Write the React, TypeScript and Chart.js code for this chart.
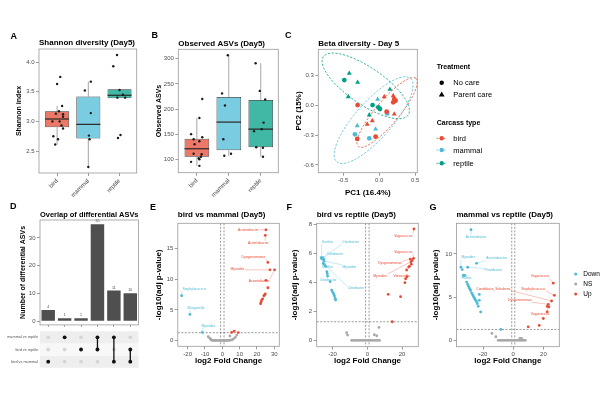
import React, { useEffect, useRef } from "react";
import { Chart, registerables } from "chart.js";

Chart.register(...registerables);

const FONT = '"Liberation Sans", Arial, Helvetica, sans-serif';
const TICK_COLOR = "#4d4d4d";
const FRAME_COLOR = "#9a9a9a";
const C_BIRD = "#E64B35";
const C_MAMMAL = "#4DBBD5";
const C_REPTILE = "#00A087";
const C_NS = "#a8a8a8";
const GROUP_COLORS = [C_BIRD, C_MAMMAL, C_REPTILE];
const GROUP_FILLS = ["rgba(230,75,53,0.75)", "rgba(77,187,213,0.75)", "rgba(0,160,135,0.75)"];

// ---------------- DATA ----------------
const carcassTypes = ["bird", "mammal", "reptile"];

// A: Shannon diversity (box stats per carcass type)
const shannonQ1 = [2.9, 2.71, 3.39];
const shannonMedian = [3.04, 2.95, 3.44];
const shannonQ3 = [3.17, 3.42, 3.54];
const shannonLow = [2.61, 2.23, 3.39];
const shannonHigh = [3.26, 3.67, 3.54];
const shannonBird = [3.75, 3.63, 3.26, 3.17, 3.13, 3.12, 3.08, 3.0, 3.0, 2.93, 2.88, 2.75, 2.7, 2.61];
const shannonBirdJitter = [0.1, 0.0, 0.16, 0.06, -0.04, 0.19, 0.19, -0.15, 0.08, 0.14, 0.19, -0.12, 0.03, -0.06];
const shannonMammal = [3.67, 3.52, 3.14, 2.76, 2.7, 2.23];
const shannonMammalJitter = [0.08, -0.11, 0.08, 0.02, 0.04, 0.0];
const shannonReptile = [4.12, 3.93, 3.53, 3.45, 3.4, 3.4, 2.77, 2.72];
const shannonReptileJitter = [-0.08, -0.2, 0.0, 0.11, -0.07, 0.18, 0.03, -0.05];
const shannonTicks = [2.5, 3.0, 3.5, 4.0];

// B: Observed ASVs
const obsQ1 = [105, 118, 124];
const obsMedian = [121, 174, 160];
const obsQ3 = [141, 224, 218];
const obsLow = [87, 107, 105];
const obsHigh = [182, 307, 291];
const obsBird = [220, 182, 150, 144, 140, 136, 130, 111, 110, 105, 102, 100, 95, 87];
const obsBirdJitter = [0.17, 0.08, -0.18, 0.17, -0.1, 0.08, -0.07, -0.1, 0.15, 0.13, 0.06, 0.08, -0.18, 0.08];
const obsMammal = [307, 231, 207, 140, 111, 107];
const obsMammalJitter = [-0.03, -0.21, -0.12, -0.17, 0.07, -0.14];
const obsReptile = [291, 236, 219, 173, 160, 156, 124, 123, 105];
const obsReptileJitter = [-0.16, -0.03, 0.14, 0.09, 0.03, -0.21, -0.14, 0.07, 0.07];
const obsTicks = [100, 150, 200, 250, 300];

// C: PCA
const pc1 = [0.069, 0.194, 0.208, 0.227, 0.194, -0.301, 0.102, 0.208, -0.167, -0.097, -0.306, -0.051,
  -0.023, 0.111, -0.306, -0.051, -0.338, -0.139,
  -0.417, -0.486, -0.301, -0.431, 0.148, -0.093, -0.014, 0.009, -0.139];
const pc2 = [0.088, 0.098, 0.064, 0.048, 0.031, 0.004, -0.063, -0.087, -0.19, -0.154, -0.338, -0.315,
  0.061, -0.08, -0.204, -0.238, -0.291, -0.331,
  0.323, 0.256, 0.233, 0.088, 0.162, 0.004, -0.019, -0.036, -0.096];
const pcaGroup = [0, 0, 0, 0, 0, 0, 0, 0, 0, 0, 0, 0, 1, 1, 1, 1, 1, 1, 2, 2, 2, 2, 2, 2, 2, 2, 2];
const pcaCare = [1, 1, 0, 0, 0, 0, 0, 1, 1, 1, 0, 0, 1, 0, 1, 1, 0, 0, 1, 0, 1, 1, 1, 0, 0, 0, 1];
const treatments = ["No care", "Parent care"];
// confidence ellipses: centre and two semi-axis vectors (data units), per carcass type
const ellipseCenter = [[0.109, -0.071], [-0.079, -0.148], [-0.188, 0.197]];
const ellipseAxisA = [[0.4, 0.344], [0.514, 0.42], [0.59, -0.294]];
const ellipseAxisB = [[0.124, -0.076], [0.19, -0.123], [-0.144, -0.152]];

// D: UpSet
const comparisons = ["bird vs mammal", "bird vs reptile", "mammal vs reptile"];
const intersectionSizes = [4, 1, 1, 35, 11, 10];
const intersectionSets = [[0], [2], [1], [1, 2], [0, 2], [0, 1]];

// E: bird vs mammal
const eDown = [[-23.5, 7.3], [-18.7, 4.26], [-11.5, 1.35]];
const eNs = [[-8.1, 0.65], [-7.1, 0.38], [-6.7, 0.22], [-6.2, 0.08], [-5.5, 0.05], [-4.8, 0.04], [-4.0, 0.03], [-3.3, 0.05],
  [-2.5, 0.02], [-1.8, 0.04], [-1.0, 0.03], [-0.3, 0.02], [0.5, 0.03], [1.2, 0.02], [2.0, 0.04], [2.8, 0.03], [3.5, 0.05],
  [4.2, 0.06], [5.0, 0.1], [5.8, 0.15], [4.4, 0.76], [8.3, 0.92], [7.5, 0.54], [6.5, 0.3]];
const eUp = [[25.2, 18.0], [24.8, 17.1], [26.3, 12.7], [27.5, 11.5], [30.2, 11.5], [25.2, 9.8], [26.3, 8.6], [24.8, 7.6],
  [24.4, 7.4], [24.0, 7.3], [23.3, 6.8], [22.7, 6.6], [22.4, 6.3], [22.1, 6.0], [5.4, 1.35], [6.9, 1.56], [9.2, 1.32]];
const eLabels: any[] = [
  ["Acinetobacter", 15.0, 18.0, 25.2, 18.0, 1], ["Acinetobacter", 20.8, 15.9, 24.8, 17.1, 1],
  ["Dysgonomonas", 17.9, 13.6, 26.3, 12.7, 1], ["Myroides", 8.7, 11.7, 27.5, 11.5, 1],
  ["Acinetobacter", 21.2, 9.7, 30.2, 11.5, 1], ["Staphylococcus", -16.2, 8.4, -23.5, 7.3, 0],
  ["Morganella", -15.2, 5.3, -18.7, 4.26, 0], ["Myroides", -8.1, 2.4, -11.5, 1.35, 0]];

// F: bird vs reptile
const fDown = [[-26.6, 5.69], [-25.6, 5.69], [-26.2, 5.62], [-25.1, 5.58], [-24.9, 5.46], [-25.3, 5.3], [-24.6, 5.22],
  [-23.9, 5.1], [-23.3, 4.73], [-23.0, 4.6], [-22.8, 4.43], [-21.4, 4.05], [-20.5, 3.47], [-20.1, 3.36], [-19.5, 3.25],
  [-19.2, 3.15], [-18.9, 3.06], [-18.5, 2.9], [-18.2, 2.79]];
const fNs = [[-11.9, 0.55], [-11.3, 0.39], [-9.0, 0.02], [-8.0, 0.03], [-7.0, 0.02], [-6.0, 0.03], [-5.0, 0.02], [-4.0, 0.03],
  [-3.0, 0.02], [-2.0, 0.03], [-1.0, 0.02], [0.0, 0.03], [1.0, 0.02], [2.0, 0.03], [3.0, 0.02], [4.0, 0.03], [5.0, 0.02],
  [6.0, 0.03], [7.0, 0.02], [6.7, 0.91], [4.0, 0.41], [5.4, 0.34]];
const fUp = [[26.8, 7.66], [26.6, 5.65], [24.7, 5.6], [25.1, 5.42], [25.8, 5.5], [25.3, 5.25], [24.2, 5.1], [23.8, 5.05],
  [22.6, 4.85], [22.8, 4.39], [22.0, 4.25], [21.6, 3.98], [12.0, 3.18], [19.1, 3.02], [14.3, 1.3]];
const fLabels: any[] = [
  ["Kurthia", -23, 6.74, -26.2, 5.69, 0], ["Citrobacter", -9.6, 6.74, -25.6, 5.69, 0],
  ["Citrobacter", -18.6, 5.94, -25.1, 5.58, 0], ["Kurthia", -23, 5.07, -25.6, 5.6, 0],
  ["Myroides", -10.3, 5.07, -24.9, 5.46, 0], ["Citrobacter", -22.4, 4.16, -23.3, 4.73, 0],
  ["Citrobacter", -6.5, 3.59, -24.6, 5.22, 0],
  ["Vagococcus", 20.7, 7.18, 26.8, 7.66, 1], ["Vagococcus", 20.7, 6.1, 26.6, 5.65, 1],
  ["Dysgonomonas", 13.0, 5.3, 24.7, 5.6, 1], ["Myroides", 7.3, 4.43, 25.1, 5.42, 1],
  ["Vitreoscilla", 19.7, 4.43, 22.8, 4.39, 1]];

// G: mammal vs reptile
const gDown = [[-28, 12.8], [-24.3, 8.93], [-34.7, 8.47], [-33.8, 8.2], [-30.2, 8.47], [-33.1, 7.52], [-32, 7.52],
  [-30.9, 6.76], [-30.2, 6.49], [-29.6, 6.26], [-29.1, 6.07], [-28.7, 5.95], [-28.3, 5.8], [-27.6, 5.5], [-26.9, 5.3],
  [-26.5, 5.15], [-26.0, 4.96], [-25.4, 4.81], [-24.9, 4.66], [-24.3, 4.47], [-23.8, 4.27], [-23.2, 3.97],
  [-22.5, 5.34], [-22.5, 4.66], [-21.6, 3.32], [-8.2, 1.3]];
const gNs = [[-14.1, 0.84], [-11.5, 0.46], [-10, 0.05], [-9, 0.04], [-8, 0.05], [-7, 0.04], [-6, 0.05], [-5, 0.04],
  [-4, 0.05], [-3, 0.04], [-2, 0.05], [-1, 0.04], [0, 0.05], [1, 0.04], [2, 0.05], [3, 0.04], [4, 0.05], [5, 0.04],
  [6, 0.05], [7, 0.04], [8, 0.05], [4.4, 0.27], [5.5, 0.27]];
const gUp = [[26.5, 6.64], [27.2, 5.23], [25.4, 4.58], [23.2, 4.2], [23.6, 3.9], [22.5, 3.97], [22.5, 3.32], [19.9, 2.56],
  [17.2, 1.76], [9.9, 1.6]];
const gLabels: any[] = [
  ["Acinetobacter", -24.6, 12.0, -28, 12.8, 0], ["Myroides", -29.8, 9.6, -34.7, 8.47, 0],
  ["Acinetobacter", -11, 9.5, -24.3, 8.93, 0], ["Providencia", -13.2, 8.1, -30.2, 8.47, 0],
  ["Hafnia", -31.0, 7.2, -33.1, 7.52, 0],
  ["Vagococcus", 17.7, 7.4, 26.5, 6.64, 1], ["Staphylococcus", 13.2, 6.0, 27.2, 5.23, 1],
  ["Candidatus_Sokabena", -13.2, 6.0, 25.4, 4.58, 1], ["Dysgonomonas", 4.4, 4.66, 23.2, 4.2, 1],
  ["Vagococcus", 17.7, 3.13, 22.5, 3.97, 1]];
const volcanoClasses = ["Down", "NS", "Up"];
const pThreshold = 1.3;
const fcThreshold = 1;

// ---------------- HELPERS ----------------
type Geom = { cx: number; cy: number; cw: number; ch: number; L: number; R: number; T: number; B: number };

function baseOptions(g: Geom, title: string | null, titleBottom: number, padBottom = 0): any {
  const lh = 9.6;
  return {
    responsive: false,
    animation: false,
    devicePixelRatio: 1,
    layout: { padding: { left: 0, right: g.cx + g.cw - g.R, top: title ? 0 : g.T - g.cy, bottom: padBottom } },
    plugins: {
      legend: { display: false },
      tooltip: { enabled: false },
      title: title
        ? {
            display: true, text: title, align: "start", fullSize: false, color: "#000",
            font: { family: FONT, size: 8, weight: "bold", lineHeight: 1.2 },
            padding: { top: g.T - g.cy - lh - titleBottom, bottom: titleBottom },
          }
        : { display: false },
    },
  };
}

function yAxis(g: Geom, o: any): any {
  const ts = o.titleSize ?? 7;
  return {
    type: "linear", position: "left", min: o.min, max: o.max, beginAtZero: false, offset: false,
    afterBuildTicks: (s: any) => { s.ticks = o.ticks.map((v: number) => ({ value: v })); },
    afterFit: (s: any) => { s.width = g.L - g.cx; },
    grid: { display: o.gridDisplay ?? true, drawOnChartArea: false, drawTicks: true, tickLength: o.tickLen ?? 3, color: "#5a5a5a", lineWidth: 0.6, offset: false },
    border: { display: false },
    ticks: {
      autoSkip: false, font: { family: FONT, size: o.tickFont ?? 6 }, color: o.tickColor ?? TICK_COLOR, padding: o.tickPad ?? 1.5,
      callback: (v: number) => (o.fmt ? o.fmt(v) : String(v)),
    },
    title: o.title
      ? { display: true, text: o.title, color: "#000", font: { family: FONT, size: ts, weight: "bold", lineHeight: 1.2 }, padding: { top: o.titleCenter - g.cx - ts * 0.6, bottom: 0 } }
      : { display: false },
  };
}

function xAxis(g: Geom, o: any): any {
  const ts = o.titleSize ?? 8;
  const bottom = g.cy + g.ch;
  return {
    type: "linear", position: "bottom", min: o.min, max: o.max, beginAtZero: false, offset: false,
    afterBuildTicks: (s: any) => { s.ticks = o.ticks.map((v: number) => ({ value: v })); },
    afterFit: (s: any) => { s.height = bottom - g.B; },
    grid: { display: true, drawOnChartArea: false, drawTicks: true, tickLength: 3, color: "#5a5a5a", lineWidth: 0.6, offset: false },
    border: { display: false },
    ticks: {
      autoSkip: false, font: { family: FONT, size: 6 }, color: TICK_COLOR, padding: 1.5,
      minRotation: o.rot ?? 0, maxRotation: o.rot ?? 0,
      callback: (v: number) => (o.fmt ? o.fmt(v) : String(v)),
    },
    title: o.title
      ? { display: true, text: o.title, color: "#000", font: { family: FONT, size: ts, weight: "bold", lineHeight: 1.2 }, padding: { top: 0, bottom: bottom - o.titleCenter - ts * 0.6 } }
      : { display: false },
  };
}

const framePlugin = {
  id: "frame",
  afterDatasetsDraw(chart: any) {
    const { ctx, chartArea: a } = chart;
    ctx.save();
    ctx.strokeStyle = FRAME_COLOR;
    ctx.lineWidth = 0.8;
    ctx.strokeRect(a.left, a.top, a.right - a.left, a.bottom - a.top);
    ctx.restore();
  },
};

function boxPlugin(q1: number[], med: number[], q3: number[], lo: number[], hi: number[]) {
  return {
    id: "boxparts",
    beforeDatasetsDraw(chart: any) {
      const { ctx, scales } = chart;
      const x = scales.x, y = scales.y;
      ctx.save();
      ctx.strokeStyle = "#808080";
      ctx.lineWidth = 0.7;
      for (let i = 0; i < q1.length; i++) {
        const px = x.getPixelForValue(i);
        ctx.beginPath();
        ctx.moveTo(px, y.getPixelForValue(q3[i]));
        ctx.lineTo(px, y.getPixelForValue(hi[i]));
        ctx.moveTo(px, y.getPixelForValue(q1[i]));
        ctx.lineTo(px, y.getPixelForValue(lo[i]));
        ctx.stroke();
      }
      ctx.restore();
    },
    afterDatasetDraw(chart: any, args: any) {
      if (args.index !== 0) return;
      const { ctx, scales } = chart;
      const meta = chart.getDatasetMeta(0);
      ctx.save();
      ctx.strokeStyle = "#262626";
      ctx.lineWidth = 1.2;
      meta.data.forEach((el: any, i: number) => {
        const py = scales.y.getPixelForValue(med[i]);
        ctx.beginPath();
        ctx.moveTo(el.x - el.width / 2, py);
        ctx.lineTo(el.x + el.width / 2, py);
        ctx.stroke();
      });
      ctx.restore();
    },
  };
}

function boxConfig(g: Geom, title: string, yTitle: string, yMin: number, yMax: number, yTicks: number[], fmt: any,
  q1: number[], med: number[], q3: number[], lo: number[], hi: number[], pts: number[][], jit: number[][]) {
  const points: any[] = [];
  pts.forEach((arr, gi) => arr.forEach((v, k) => points.push({ x: gi + jit[gi][k], y: v })));
  const opts = baseOptions(g, title, 1);
  opts.scales = {
    x: xAxis(g, { min: -0.58, max: 2.55, ticks: [0, 1, 2], fmt: (v: number) => carcassTypes[v], rot: 45 }),
    y: yAxis(g, { min: yMin, max: yMax, ticks: yTicks, fmt, title: yTitle, titleCenter: g.cx + 19 }),
  };
  return {
    type: "bar",
    data: {
      datasets: [
        {
          type: "bar", order: 2,
          data: q1.map((v, i) => ({ x: i, y: [v, q3[i]] })),
          backgroundColor: GROUP_FILLS, borderColor: "#333333", borderWidth: 0.7, borderSkipped: false,
          categoryPercentage: 1, barPercentage: 0.77,
        },
        { type: "scatter", order: 1, data: points, pointRadius: 1.2, pointBackgroundColor: "#1a1a1a", pointBorderWidth: 0 },
      ],
    },
    options: opts,
    plugins: [boxPlugin(q1, med, q3, lo, hi), framePlugin],
  };
}

const ellipsePlugin = {
  id: "ellipses",
  beforeDatasetsDraw(chart: any) {
    const { ctx, scales } = chart;
    ctx.save();
    ctx.lineWidth = 0.8;
    ctx.setLineDash([2.2, 1.6]);
    for (let gi = 0; gi < 3; gi++) {
      ctx.strokeStyle = GROUP_COLORS[gi];
      ctx.beginPath();
      for (let s = 0; s <= 72; s++) {
        const t = (s / 72) * Math.PI * 2;
        const vx = ellipseCenter[gi][0] + Math.cos(t) * ellipseAxisA[gi][0] + Math.sin(t) * ellipseAxisB[gi][0];
        const vy = ellipseCenter[gi][1] + Math.cos(t) * ellipseAxisA[gi][1] + Math.sin(t) * ellipseAxisB[gi][1];
        const px = scales.x.getPixelForValue(vx), py = scales.y.getPixelForValue(vy);
        if (s === 0) ctx.moveTo(px, py); else ctx.lineTo(px, py);
      }
      ctx.stroke();
    }
    ctx.restore();
  },
};

function pcaConfig(g: Geom) {
  const datasets: any[] = [];
  for (let gi = 0; gi < 3; gi++) {
    for (let c = 0; c < 2; c++) {
      const data: any[] = [];
      pc1.forEach((v, i) => { if (pcaGroup[i] === gi && pcaCare[i] === c) data.push({ x: v, y: pc2[i] }); });
      datasets.push({
        label: carcassTypes[gi] + " / " + treatments[c], data,
        pointStyle: c === 0 ? "circle" : "triangle", pointRadius: c === 0 ? 2.4 : 2.9,
        pointBackgroundColor: GROUP_COLORS[gi], pointBorderColor: GROUP_COLORS[gi], pointBorderWidth: 0,
      });
    }
  }
  const opts = baseOptions(g, "Beta diversity - Day 5", 1);
  const f1 = (v: number) => v.toFixed(1);
  opts.scales = {
    x: xAxis(g, { min: -0.847, max: 0.528, ticks: [-0.5, 0, 0.5], fmt: f1, title: "PC1 (16.4%)", titleCenter: 192.3 }),
    y: yAxis(g, { min: -0.678, max: 0.566, ticks: [-0.6, -0.3, 0, 0.3], fmt: f1, title: "PC2 (15%)", titleSize: 8, titleCenter: 299 }),
  };
  return { type: "scatter", data: { datasets }, options: opts, plugins: [ellipsePlugin, framePlugin] };
}

function upsetBarsConfig(g: Geom) {
  const opts = baseOptions(g, "Overlap of differential ASVs", 0.2);
  opts.scales = {
    x: {
      type: "category", offset: true,
      afterFit: (s: any) => { s.height = g.cy + g.ch - g.B; },
      grid: { display: true, drawOnChartArea: false, drawTicks: true, tickLength: 2, color: "#5a5a5a", lineWidth: 0.6, offset: false },
      border: { display: false },
      ticks: { display: false },
    },
    y: yAxis(g, { min: -1.4, max: 36.5, ticks: [0, 10, 20, 30], title: "Number of differential ASVs", titleCenter: 22.7 }),
  };
  const labelPlugin = {
    id: "barlabels",
    afterDatasetsDraw(chart: any) {
      const { ctx } = chart;
      const meta = chart.getDatasetMeta(0);
      ctx.save();
      ctx.font = `3.6px ${FONT}`;
      ctx.fillStyle = "#444";
      ctx.textAlign = "center";
      ctx.textBaseline = "bottom";
      meta.data.forEach((el: any, i: number) => ctx.fillText(String(intersectionSizes[i]), el.x, el.y - 1.2));
      ctx.restore();
    },
  };
  return {
    type: "bar",
    data: {
      labels: intersectionSets.map((s) => s.map((i) => comparisons[i]).join(" & ")),
      datasets: [{ data: intersectionSizes, backgroundColor: "#4f4f4f", categoryPercentage: 1, barPercentage: 0.82 }],
    },
    options: opts,
    plugins: [labelPlugin, framePlugin],
  };
}

function upsetMatrixConfig(g: Geom) {
  const bgDots: any[] = [];
  const onDots: any[] = [];
  const lines: any[] = [];
  intersectionSets.forEach((set, i) => {
    for (let r = 0; r < comparisons.length; r++) bgDots.push({ x: i, y: r });
    set.forEach((r) => onDots.push({ x: i, y: r }));
    if (set.length > 1) {
      lines.push({
        type: "scatter", data: [{ x: i, y: Math.min(...set) }, { x: i, y: Math.max(...set) }],
        showLine: true, borderColor: "#111", borderWidth: 1.3, pointRadius: 0,
      });
    }
  });
  const opts = baseOptions(g, null, 0, g.cy + g.ch - g.B);
  opts.scales = {
    x: { type: "linear", min: -0.5, max: 5.5, display: false },
    y: yAxis(g, {
      min: -0.5, max: 2.5, ticks: [0, 1, 2], fmt: (v: number) => comparisons[v], tickFont: 3.8,
      tickColor: "#555", gridDisplay: false, tickLen: 0, tickPad: 2,
    }),
  };
  const shadePlugin = {
    id: "rowshade",
    beforeDatasetsDraw(chart: any) {
      const { ctx, chartArea: a, scales } = chart;
      ctx.save();
      for (let r = 0; r < comparisons.length; r++) {
        ctx.fillStyle = r % 2 === 0 ? "#eeeeee" : "#f8f8f8";
        const t = scales.y.getPixelForValue(r + 0.5), b = scales.y.getPixelForValue(r - 0.5);
        ctx.fillRect(a.left, t, a.right - a.left, b - t);
      }
      ctx.restore();
    },
  };
  return {
    type: "scatter",
    data: {
      datasets: [
        { data: onDots, pointRadius: 1.9, pointBackgroundColor: "#111", pointBorderWidth: 0 },
        ...lines,
        { data: bgDots, pointRadius: 1.9, pointBackgroundColor: "#d6d6d6", pointBorderWidth: 0 },
      ],
    },
    options: opts,
    plugins: [shadePlugin],
  };
}

function volcanoConfig(g: Geom, title: string, xMin: number, xMax: number, xTicks: number[], yMin: number, yMax: number,
  yTicks: number[], yTitleCenter: number, down: number[][], ns: number[][], up: number[][], labels: any[]) {
  const toPts = (arr: number[][]) => arr.map((p) => ({ x: p[0], y: p[1] }));
  const opts = baseOptions(g, title, 3.5);
  opts.scales = {
    x: xAxis(g, { min: xMin, max: xMax, ticks: xTicks, title: "log2 Fold Change", titleCenter: 361 }),
    y: yAxis(g, { min: yMin, max: yMax, ticks: yTicks, title: "-log10(adj p-value)", titleSize: 8, titleCenter: yTitleCenter }),
  };
  const refPlugin = {
    id: "reflines",
    beforeDatasetsDraw(chart: any) {
      const { ctx, chartArea: a, scales } = chart;
      ctx.save();
      ctx.strokeStyle = "#555";
      ctx.lineWidth = 0.6;
      ctx.setLineDash([2, 1.5]);
      ctx.beginPath();
      [-fcThreshold, fcThreshold].forEach((v) => {
        const px = scales.x.getPixelForValue(v);
        ctx.moveTo(px, a.top); ctx.lineTo(px, a.bottom);
      });
      const py = scales.y.getPixelForValue(pThreshold);
      ctx.moveTo(a.left, py); ctx.lineTo(a.right, py);
      ctx.stroke();
      ctx.restore();
    },
  };
  const labelPlugin = {
    id: "repel",
    afterDatasetsDraw(chart: any) {
      const { ctx, scales } = chart;
      ctx.save();
      ctx.font = `3.4px ${FONT}`;
      ctx.textAlign = "center";
      ctx.textBaseline = "middle";
      labels.forEach((l) => {
        const col = l[5] === 1 ? C_BIRD : C_MAMMAL;
        const lx = scales.x.getPixelForValue(l[1]), ly = scales.y.getPixelForValue(l[2]);
        const px = scales.x.getPixelForValue(l[3]), py = scales.y.getPixelForValue(l[4]);
        const w = ctx.measureText(l[0]).width / 2 + 0.5, h = 2;
        const sx = Math.max(lx - w, Math.min(lx + w, px));
        const sy = Math.max(ly - h, Math.min(ly + h, py));
        ctx.strokeStyle = col;
        ctx.globalAlpha = 0.8;
        ctx.lineWidth = 0.4;
        ctx.beginPath(); ctx.moveTo(sx, sy); ctx.lineTo(px, py); ctx.stroke();
        ctx.globalAlpha = 1;
        ctx.fillStyle = col;
        ctx.fillText(l[0], lx, ly);
      });
      ctx.restore();
    },
  };
  return {
    type: "scatter",
    data: {
      datasets: [
        { label: volcanoClasses[2], data: toPts(up), pointRadius: 1.4, pointBackgroundColor: C_BIRD, pointBorderWidth: 0 },
        { label: volcanoClasses[0], data: toPts(down), pointRadius: 1.4, pointBackgroundColor: C_MAMMAL, pointBorderWidth: 0 },
        { label: volcanoClasses[1], data: toPts(ns), pointRadius: 1.4, pointBackgroundColor: C_NS, pointBorderWidth: 0 },
      ],
    },
    options: opts,
    plugins: [refPlugin, labelPlugin, framePlugin],
  };
}

// ---------------- COMPONENTS ----------------
function ChartBox({ g, make }: { g: Geom; make: () => any }) {
  const ref = useRef<HTMLCanvasElement>(null);
  useEffect(() => {
    const chart = new Chart(ref.current as HTMLCanvasElement, make());
    return () => chart.destroy();
  }, []);
  return (
    <canvas ref={ref} width={g.cw} height={g.ch}
      style={{ position: "absolute", left: g.cx, top: g.cy, width: g.cw, height: g.ch }} />
  );
}

function Txt({ x, y, size, bold, color, children }: any) {
  return (
    <div style={{
      position: "absolute", left: x, top: y - size * 0.6, fontFamily: FONT, fontSize: size,
      lineHeight: `${size * 1.2}px`, fontWeight: bold ? 700 : 400, color: color ?? "#000", whiteSpace: "nowrap",
    }}>{children}</div>
  );
}

const gA: Geom = { cx: 0, cy: 30, cw: 145, ch: 170, L: 39, R: 136.7, T: 49, B: 173 };
const gB: Geom = { cx: 140, cy: 30, cw: 145, ch: 170, L: 178.3, R: 278.3, T: 49.3, B: 172.7 };
const gC: Geom = { cx: 280, cy: 30, cw: 145, ch: 170, L: 318.3, R: 417.3, T: 49.3, B: 172.7 };
const gD: Geom = { cx: 0, cy: 200, cw: 145, ch: 130, L: 40, R: 138.5, T: 220, B: 326.7 };
const gDm: Geom = { cx: 0, cy: 327, cw: 145, ch: 45, L: 40, R: 138.5, T: 330, B: 368 };
const gE: Geom = { cx: 140, cy: 200, cw: 145, ch: 172, L: 177.8, R: 279.3, T: 223.3, B: 346.3 };
const gF: Geom = { cx: 285, cy: 200, cw: 145, ch: 172, L: 316.7, R: 418.3, T: 223.3, B: 346.7 };
const gG: Geom = { cx: 430, cy: 200, cw: 170, ch: 172, L: 456.5, R: 559.3, T: 223.3, B: 346.7 };

export default function App() {
  const f1 = (v: number) => v.toFixed(1);
  return (
    <div style={{ position: "fixed", left: 0, top: 0, width: 600, height: 400, background: "#fff", overflow: "hidden" }}>
      <ChartBox g={gA} make={() => boxConfig(gA, "Shannon diversity (Day5)", "Shannon index", 2.13, 4.22, shannonTicks, f1,
        shannonQ1, shannonMedian, shannonQ3, shannonLow, shannonHigh,
        [shannonBird, shannonMammal, shannonReptile], [shannonBirdJitter, shannonMammalJitter, shannonReptileJitter])} />
      <ChartBox g={gB} make={() => boxConfig(gB, "Observed ASVs (Day5)", "Observed ASVs", 73.4, 318.7, obsTicks, (v: number) => String(v),
        obsQ1, obsMedian, obsQ3, obsLow, obsHigh,
        [obsBird, obsMammal, obsReptile], [obsBirdJitter, obsMammalJitter, obsReptileJitter])} />
      <ChartBox g={gC} make={() => pcaConfig(gC)} />
      <ChartBox g={gD} make={() => upsetBarsConfig(gD)} />
      <ChartBox g={gDm} make={() => upsetMatrixConfig(gDm)} />
      <ChartBox g={gE} make={() => volcanoConfig(gE, "bird vs mammal (Day5)", -25.7, 32.9, [-20, -10, 0, 10, 20, 30],
        -0.91, 19.06, [0, 5, 10, 15], 158.3, eDown, eNs, eUp, eLabels)} />
      <ChartBox g={gF} make={() => volcanoConfig(gF, "bird vs reptile (Day5)", -29.1, 29.3, [-20, 0, 20],
        -0.41, 8.05, [0, 2, 4, 6, 8], 295, fDown, fNs, fUp, fLabels)} />
      <ChartBox g={gG} make={() => volcanoConfig(gG, "mammal vs reptile (Day5)", -37.6, 30.5, [-20, 0, 20],
        -0.69, 13.54, [0, 5, 10], 436, gDown, gNs, gUp, gLabels)} />

      {/* panel letters */}
      <Txt x={10.5} y={36.3} size={9} bold>A</Txt>
      <Txt x={151.5} y={35.5} size={9} bold>B</Txt>
      <Txt x={285} y={35} size={9} bold>C</Txt>
      <Txt x={10} y={206.7} size={9} bold>D</Txt>
      <Txt x={150} y={207.7} size={9} bold>E</Txt>
      <Txt x={286.5} y={207.7} size={9} bold>F</Txt>
      <Txt x={429.5} y={207.7} size={9} bold>G</Txt>

      {/* legend symbols */}
      <svg width={600} height={400} style={{ position: "absolute", left: 0, top: 0, pointerEvents: "none" }}>
        <circle cx={441.7} cy={82.7} r={2.2} fill="#000" />
        <polygon points="441.7,91.6 444.6,96.6 438.8,96.6" fill="#000" />
        {GROUP_COLORS.map((c, i) => {
          const y = [138.3, 150, 163.3][i];
          return (
            <g key={c}>
              <line x1={436.5} x2={447} y1={y} y2={y} stroke={c} strokeWidth={0.8} strokeDasharray="2 1.5" />
              <circle cx={441.7} cy={y} r={2.2} fill={c} />
            </g>
          );
        })}
        {[C_MAMMAL, C_NS, C_BIRD].map((c, i) => (
          <circle key={c} cx={575.7} cy={[274, 284, 294][i]} r={1.5} fill={c} />
        ))}
      </svg>

      {/* legend texts */}
      <Txt x={436.7} y={66.7} size={7} bold>Treatment</Txt>
      <Txt x={453.3} y={82.7} size={7.5}>{treatments[0]}</Txt>
      <Txt x={453.3} y={94.3} size={7.5}>{treatments[1]}</Txt>
      <Txt x={436.7} y={122.7} size={7} bold>Carcass type</Txt>
      <Txt x={453.3} y={138.3} size={7.5}>{carcassTypes[0]}</Txt>
      <Txt x={453.3} y={150} size={7.5}>{carcassTypes[1]}</Txt>
      <Txt x={453.3} y={163.3} size={7.5}>{carcassTypes[2]}</Txt>
      <Txt x={583.3} y={274} size={6.5}>{volcanoClasses[0]}</Txt>
      <Txt x={583.3} y={284} size={6.5}>{volcanoClasses[1]}</Txt>
      <Txt x={583.3} y={294} size={6.5}>{volcanoClasses[2]}</Txt>
    </div>
  );
}
